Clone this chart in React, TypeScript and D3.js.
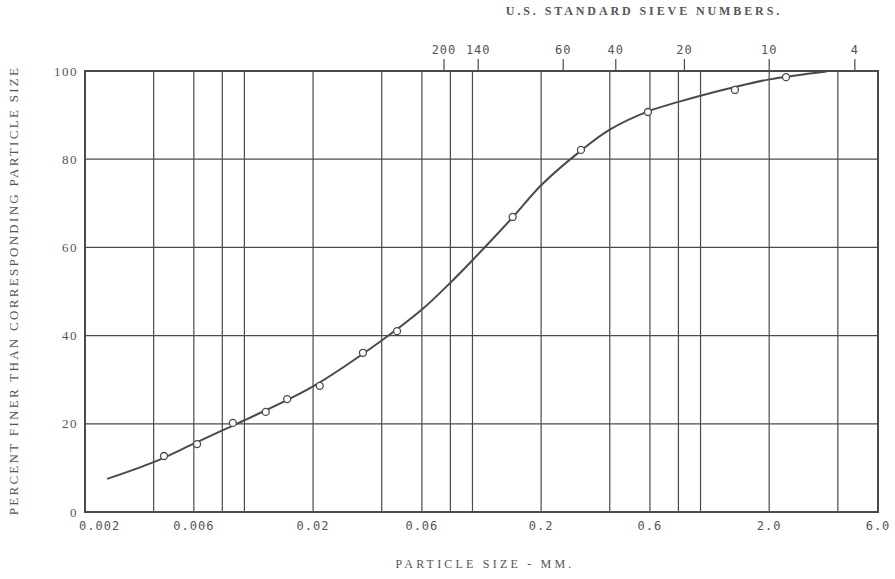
import React from "react";
import * as d3 from "d3";

// Grain-size distribution: percent finer vs particle size (mm, log scale)
const gridSizes = [0.004, 0.006, 0.008, 0.01, 0.02, 0.04, 0.06, 0.08, 0.1, 0.2, 0.4, 0.6, 0.8, 1.0, 2.0, 4.0];
const bottomTickValues = [0.002, 0.006, 0.02, 0.06, 0.2, 0.6, 2.0, 6.0];
const bottomTickLabels = ["0.002", "0.006", "0.02", "0.06", "0.2", "0.6", "2.0", "6.0"];
const percentTicks = [0, 20, 40, 60, 80, 100];

// U.S. standard sieve numbers and their openings (mm)
const sieveNumbers = ["200", "140", "60", "40", "20", "10", "4"];
const sieveOpenings = [0.075, 0.106, 0.25, 0.425, 0.85, 2.0, 4.75];

// Test results
const sampleSizes = [0.00444, 0.0062, 0.0089, 0.0124, 0.0154, 0.0214, 0.0331, 0.0467, 0.150, 0.299, 0.588, 1.415, 2.37];
const samplePercents = [12.7, 15.4, 20.2, 22.7, 25.6, 28.6, 36.1, 41.0, 66.9, 82.1, 90.7, 95.7, 98.6];

// Fitted gradation curve
const curveSizes = [0.0025, 0.004, 0.006, 0.008, 0.01, 0.02, 0.04, 0.06, 0.08, 0.1, 0.15, 0.2, 0.3, 0.4, 0.6, 0.8, 1.0, 1.4, 2.0, 3.57];
const curvePercents = [7.5, 11.3, 15.5, 18.5, 20.8, 28.5, 38.9, 45.9, 52.0, 57.1, 66.8, 74.1, 82.0, 86.7, 91.0, 93.0, 94.4, 96.3, 98.1, 99.9];

const W = 895;
const H = 579;
const left = 85;
const right = 878;
const top = 71;
const bottom = 512;

const ink = "#4a4a4a";
const textInk = "#555";
const serif = "'Liberation Serif', 'DejaVu Serif', serif";
const mono = "'DejaVu Sans Mono', 'Liberation Mono', monospace";

export default function App() {
  const x = d3.scaleLog().domain([0.002, 6]).range([left, right]);
  const y = d3.scaleLinear().domain([0, 100]).range([bottom, top]);

  const curvePts: [number, number][] = curveSizes.map((s, i) => [x(s), y(curvePercents[i])]);
  const line = d3.line().curve(d3.curveCatmullRom.alpha(0.5))(curvePts) || "";

  return (
    <svg width={W} height={H} viewBox={`0 0 ${W} ${H}`} style={{ position: "absolute", left: 0, top: 0, background: "#fff" }}>
      <rect x={0} y={0} width={W} height={H} fill="#fff" />

      {/* vertical grid */}
      {gridSizes.map((s) => (
        <line key={"gv" + s} x1={x(s)} x2={x(s)} y1={top} y2={bottom} stroke={ink} strokeWidth={1.2} />
      ))}
      {/* horizontal grid */}
      {percentTicks.slice(1, -1).map((p) => (
        <line key={"gh" + p} x1={left} x2={right} y1={y(p)} y2={y(p)} stroke={ink} strokeWidth={1.2} />
      ))}

      {/* frame */}
      <rect x={left} y={top} width={right - left} height={bottom - top} fill="none" stroke={ink} strokeWidth={2} />

      {/* sieve ticks on top */}
      {sieveOpenings.map((s, i) => (
        <g key={"sv" + i}>
          <line x1={x(s)} x2={x(s)} y1={top - 12} y2={top} stroke={ink} strokeWidth={1.2} />
          <text x={x(s)} y={54} textAnchor="middle" fontFamily={mono} fontSize={12} letterSpacing={1} fill={textInk}>
            {sieveNumbers[i]}
          </text>
        </g>
      ))}
      <text x={644} y={15} textAnchor="middle" fontFamily={serif} fontSize={12} fontWeight="bold" letterSpacing={2.9} fill={textInk}>
        U.S. STANDARD SIEVE NUMBERS.
      </text>

      {/* bottom tick labels */}
      {bottomTickValues.map((v, i) => {
        const first = i === 0;
        return (
          <text key={"bt" + v} x={first ? x(v) - 6 : x(v)} y={530} textAnchor={first ? "start" : "middle"} fontFamily={mono} fontSize={12} letterSpacing={1} fill={textInk}>
            {bottomTickLabels[i]}
          </text>
        );
      })}

      {/* left tick labels */}
      {percentTicks.map((p) => (
        <text key={"yt" + p} x={78} y={y(p)} dy="0.35em" textAnchor="end" fontFamily={serif} fontSize={13} letterSpacing={1.5} fill={textInk}>
          {p}
        </text>
      ))}

      {/* axis titles */}
      <text x={485} y={568} textAnchor="middle" fontFamily={serif} fontSize={12} letterSpacing={3.2} fill={textInk}>
        PARTICLE SIZE - MM.
      </text>
      <text transform={`translate(17.5,${(top + bottom) / 2 - 1}) rotate(-90)`} textAnchor="middle" fontFamily={serif} fontSize={13} letterSpacing={2.3} fill={textInk}>
        PERCENT FINER THAN CORRESPONDING PARTICLE SIZE
      </text>

      {/* gradation curve */}
      <path d={line} fill="none" stroke={ink} strokeWidth={2} />

      {/* sample points */}
      {sampleSizes.map((s, i) => (
        <circle key={"pt" + i} cx={x(s)} cy={y(samplePercents[i])} r={3.5} fill="#fff" stroke={ink} strokeWidth={1.3} />
      ))}
    </svg>
  );
}
